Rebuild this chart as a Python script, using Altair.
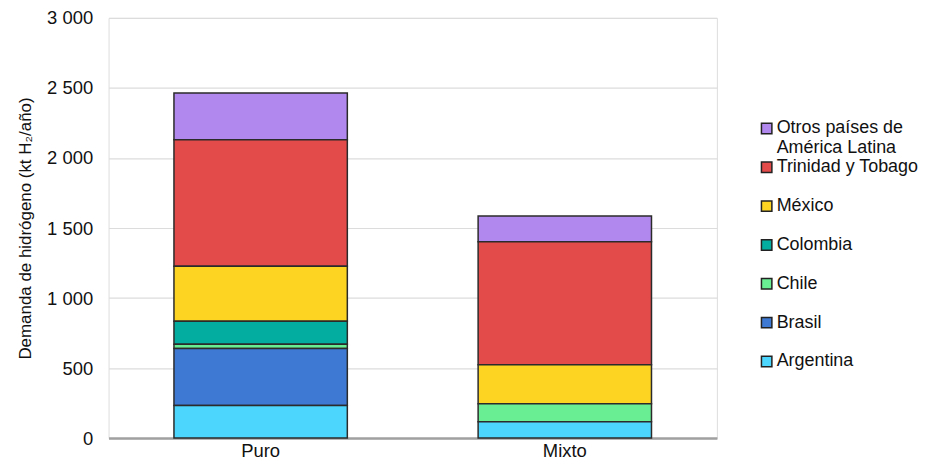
import altair as alt
import pandas as pd

categories = ["Puro", "Mixto"]
series = ["Otros países de América Latina", "Trinidad y Tobago", "México",
          "Colombia", "Chile", "Brasil", "Argentina"]
colors = ["#b188ee", "#e24b4a", "#fdd422", "#03ad9f", "#6aee93", "#3e7ad3", "#4cd5fd"]
puro = [335, 903, 393, 163, 31, 408, 232]
mixto = [184, 879, 277, 0, 130, 0, 116]

rows = []
for cat, vals in zip(categories, [puro, mixto]):
    for i, (s, v) in enumerate(zip(series, vals)):
        rows.append({"cat": cat, "serie": s, "value": v, "order": len(series) - i})
df = pd.DataFrame(rows)

FONT = "Liberation Sans"

chart = alt.Chart(df).transform_filter("datum.value > 0").mark_bar(
    stroke="#2b2b2b", strokeWidth=1.5
).encode(
    x=alt.X("cat:N", sort=categories, title=None,
            scale=alt.Scale(paddingInner=0.43, paddingOuter=0.215),
            axis=alt.Axis(labelAngle=0, labelFontSize=18.5, labelColor="#111",
                          labelFont=FONT, ticks=False, labelPadding=3,
                          domainColor="#a0a0a0", domainWidth=2.5, grid=False)),
    y=alt.Y("value:Q", stack="zero", title="Demanda de hidrógeno (kt H₂/año)",
            scale=alt.Scale(domain=[0, 3000]),
            axis=alt.Axis(values=[0, 500, 1000, 1500, 2000, 2500, 3000],
                          labelExpr="replace(format(datum.value, ','), ',', ' ')",
                          labelFontSize=18.5, labelColor="#111", labelFont=FONT,
                          titleFont=FONT, titleFontSize=17, titleColor="#111",
                          titleFontWeight="normal", titlePadding=12,
                          ticks=False, domain=False, labelPadding=16,
                          gridColor="#dcdcdc", gridWidth=1.2)),
    color=alt.Color("serie:N", title=None,
                    scale=alt.Scale(domain=series, range=colors),
                    legend=alt.Legend(orient="none", legendX=652, legendY=102,
                                      symbolType="square", symbolSize=110,
                                      symbolStrokeColor="#222", symbolStrokeWidth=1.5,
                                      labelFontSize=18, labelFont=FONT, labelColor="#111",
                                      labelOffset=1, labelLimit=220,
                                      gridAlign="all", rowPadding=1,
                                      labelExpr="datum.label == 'Otros países de América Latina' ? ['Otros países de', 'América Latina'] : datum.label")),
    order=alt.Order("order:Q", sort="ascending"),
).properties(width=611, height=422).configure_view(strokeWidth=0).configure(
    padding={"left": 8, "top": 0, "right": 0, "bottom": 0}
)

chart.save("out.html", embed_options={"renderer": "svg", "actions": False})
